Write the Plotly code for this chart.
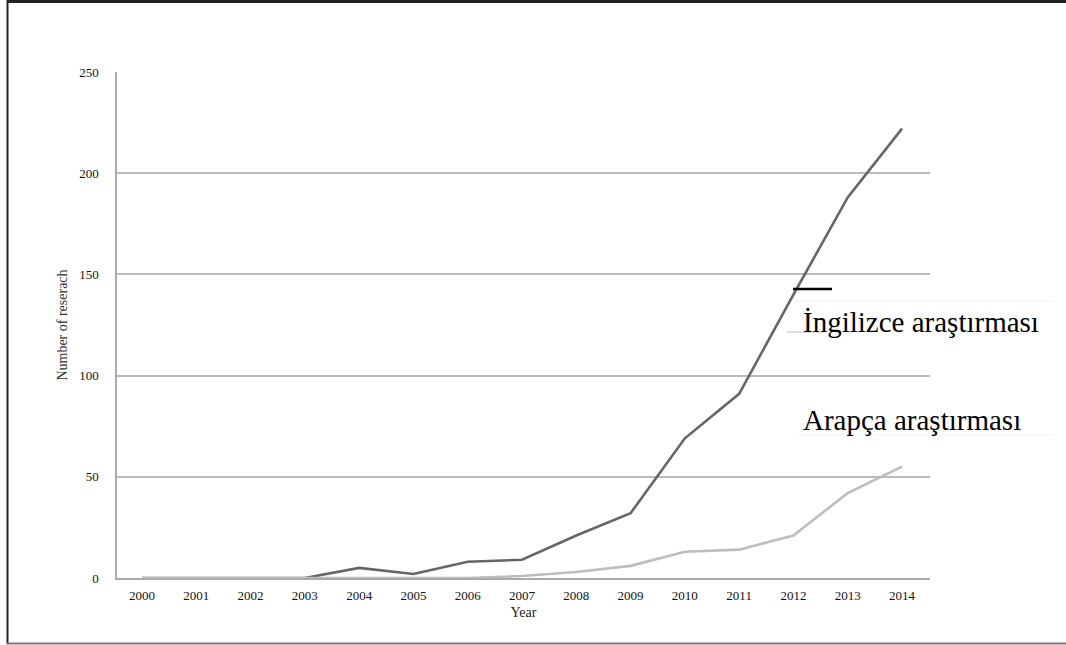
import plotly.graph_objects as go

years = list(range(2000, 2015))
english = [0, 0, 0, 0, 5, 2, 8, 9, 21, 32, 69, 91, 140, 188, 222]
arabic = [0, 0, 0, 0, 0, 0, 0, 1, 3, 6, 13, 14, 21, 42, 55]
y_ticks = [0, 50, 100, 150, 200, 250]
label_en = "İngilizce araştırması"
label_ar = "Arapça araştırması"

W, H = 1066, 645
L, R, T, B = 117, 930, 72, 578


def px(x):
    return (x - L) / (R - L)


def py(y):
    return (B - y) / (B - T)


serif = "Liberation Serif, Times New Roman, serif"

fig = go.Figure()
fig.add_trace(go.Scatter(x=years, y=english, mode="lines",
                         line=dict(color="#666666", width=2.6), name="English"))
fig.add_trace(go.Scatter(x=years, y=arabic, mode="lines",
                         line=dict(color="#bdbdbd", width=2.6), name="Arabic"))

shapes = [
    # white label boxes covering gridlines
    dict(type="rect", xref="paper", yref="paper", x0=px(797), x1=px(1055), y0=py(340), y1=py(301),
         fillcolor="white", line=dict(width=0), layer="between"),
    dict(type="rect", xref="paper", yref="paper", x0=px(797), x1=px(1055), y0=py(435), y1=py(352),
         fillcolor="white", line=dict(width=0), layer="between"),
    dict(type="line", xref="paper", yref="paper", x0=px(797), x1=px(1055), y0=py(301), y1=py(301),
         line=dict(color="#f3f3f3", width=1), layer="between"),
    dict(type="line", xref="paper", yref="paper", x0=px(797), x1=px(1055), y0=py(435), y1=py(435),
         line=dict(color="#f3f3f3", width=1), layer="between"),
    # small marks near label
    dict(type="line", xref="paper", yref="paper", x0=px(793), x1=px(832), y0=py(289), y1=py(289),
         line=dict(color="black", width=2.5), layer="above"),
    dict(type="line", xref="paper", yref="paper", x0=px(787), x1=px(824), y0=py(332), y1=py(332),
         line=dict(color="#bbbbbb", width=1.2), layer="above"),
    # outer frame
    dict(type="line", xref="paper", yref="paper", x0=px(7), x1=px(1070), y0=py(1.5), y1=py(1.5),
         line=dict(color="#222222", width=3)),
    dict(type="line", xref="paper", yref="paper", x0=px(7.5), x1=px(7.5), y0=py(0), y1=py(644),
         line=dict(color="#222222", width=2)),
    dict(type="line", xref="paper", yref="paper", x0=px(7), x1=px(1070), y0=py(643.5), y1=py(643.5),
         line=dict(color="#777777", width=2)),
]

annotations = [
    dict(text=label_en, xref="paper", yref="paper", x=px(801), y=py(322), xanchor="left",
         yanchor="middle", showarrow=False, font=dict(family=serif, size=29, color="black")),
    dict(text=label_ar, xref="paper", yref="paper", x=px(801), y=py(420), xanchor="left",
         yanchor="middle", showarrow=False, font=dict(family=serif, size=29, color="black")),
]

fig.update_layout(
    width=W, height=H,
    margin=dict(l=L, r=W - R, t=T, b=H - B, pad=0),
    paper_bgcolor="white", plot_bgcolor="white",
    showlegend=False,
    shapes=shapes,
    annotations=annotations,
    xaxis=dict(
        range=[2000 - 25 / 54.29, 2014 + 28 / 54.29],
        tickmode="array", tickvals=years, ticktext=[str(y) for y in years],
        showgrid=False, zeroline=False,
        showline=True, linecolor="#aaaaaa", linewidth=1.5,
        ticks="", ticklabelstandoff=5,
        tickfont=dict(family=serif, size=13, color="#111111"),
        title=dict(text="Year", font=dict(family=serif, size=14, color="#222222"), standoff=5),
    ),
    yaxis=dict(
        range=[0, 250],
        tickmode="array", tickvals=y_ticks, ticktext=[str(v) for v in y_ticks],
        showgrid=True, gridcolor="#bbbbbb", gridwidth=1.5,
        zeroline=False,
        showline=True, linecolor="#aaaaaa", linewidth=1.5,
        ticks="", ticklabelstandoff=14,
        tickfont=dict(family=serif, size=13, color="#111111"),
        title=dict(text="Number of reserach", font=dict(family=serif, size=14, color="#333333"), standoff=8),
    ),
)

fig.write_html("out.html", config={"displayModeBar": False},
               post_script="document.body.style.margin='0px';")
